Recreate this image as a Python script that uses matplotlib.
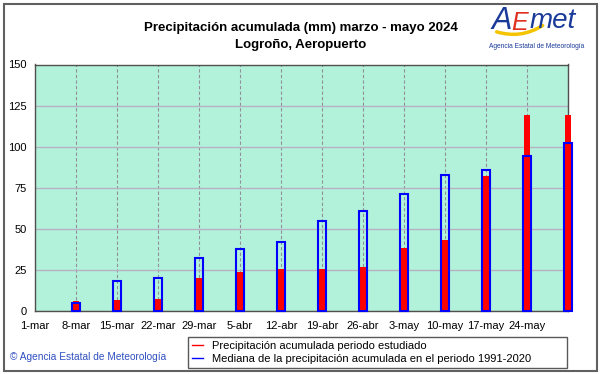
import matplotlib
matplotlib.use('Agg')
import matplotlib.pyplot as plt
from matplotlib.patches import Rectangle, FancyArrowPatch
import numpy as np

plt.rcParams['font.family'] = ['Liberation Sans', 'DejaVu Sans']

# ── Data ─────────────────────────────────────────────────────────
week_labels = ['1-mar', '8-mar', '15-mar', '22-mar', '29-mar', '5-abr', '12-abr',
               '19-abr', '26-abr', '3-may', '10-may', '17-may', '24-may', '']
# days since 1-mar for each bar (8-mar .. 31-may)
bar_days = [7, 14, 21, 28, 35, 42, 49, 56, 63, 70, 77, 84, 91]
prec_2024 = [6, 6.5, 7.5, 20, 23.5, 25.5, 25.5, 26.5, 38.5, 43, 82, 119, 119]
mediana = [5, 18, 20, 32, 38, 42, 55, 61, 71, 83, 86, 94.5, 102.5]

# ── Figure ───────────────────────────────────────────────────────
fig = plt.figure(figsize=(6.01, 3.74), dpi=100)
ax = fig.add_axes([35 / 601, 1 - 311 / 374, 533 / 601, 246.5 / 374])
ax.set_facecolor('#b2f2da')

red_bars = ax.bar(bar_days, prec_2024, width=1.05, color='#ff0000', zorder=3)
blue_bars = ax.bar(bar_days, mediana, width=1.2, facecolor='none', edgecolor='#0000ff',
                   linewidth=1.5, zorder=4)
for b in list(red_bars) + list(blue_bars):
    b.set_clip_on(False)

ax.set_xlim(0, 91)
ax.set_ylim(0, 150)
ax.set_xticks(np.arange(0, 92, 7))
ax.set_xticklabels(week_labels)
ax.set_yticks(np.arange(0, 151, 25))
ax.tick_params(axis='x', length=0, labelsize=8, pad=7)
ax.tick_params(axis='y', length=0, labelsize=8, pad=6)
ax.xaxis.grid(True, color='#909098', linestyle=(0, (3, 2)), linewidth=0.8, zorder=1)
ax.yaxis.grid(True, color='#b8b0c4', linestyle='-', linewidth=1.0, zorder=1)
ax.set_axisbelow(True)
for s in ax.spines.values():
    s.set_color('#505050')
    s.set_linewidth(1.0)

# ── Titles ───────────────────────────────────────────────────────
fig.text(0.5, 1 - 28 / 374, 'Precipitación acumulada (mm) marzo - mayo 2024',
         ha='center', va='center', fontsize=9.5, fontweight='bold')
fig.text(0.5, 1 - 45 / 374, 'Logroño, Aeropuerto',
         ha='center', va='center', fontsize=9.5, fontweight='bold')

# ── Logo (approximation) ─────────────────────────────────────────
fig.text(502 / 601, 1 - 21 / 374, 'A', color='#1a3a9a', fontsize=22,
         style='italic', ha='center', va='center')
fig.text(520 / 601, 1 - 23 / 374, 'E', color='#e03020', fontsize=18,
         style='italic', ha='center', va='center')
fig.text(553 / 601, 1 - 21 / 374, 'met', color='#1a3a9a', fontsize=20,
         style='italic', ha='center', va='center')
swoosh = FancyArrowPatch((494 / 601, 1 - 31 / 374), (545 / 601, 1 - 24 / 374),
                         transform=fig.transFigure, arrowstyle='-',
                         connectionstyle='arc3,rad=0.25', color='#f5c400', lw=2.5)
fig.add_artist(swoosh)
fig.text(537 / 601, 1 - 47 / 374, 'Agencia Estatal de Meteorología', color='#1a3a9a',
         fontsize=4.8, ha='center', va='center')

# ── Legend ───────────────────────────────────────────────────────
leg_handles = [plt.Line2D([], [], color='#ff0000', lw=1),
               plt.Line2D([], [], color='#0000ff', lw=1)]
leg = fig.legend(leg_handles,
                 ['Precipitación acumulada periodo estudiado',
                  'Mediana de la precipitación acumulada en el periodo 1991-2020'],
                 loc='lower left', mode='expand',
                 bbox_to_anchor=(188 / 601, 6 / 374, 379 / 601, 33 / 374),
                 fontsize=8, frameon=True, fancybox=False, handlelength=1.0,
                 handletextpad=0.8, borderpad=0.35, labelspacing=0.3,
                 borderaxespad=0)
leg.get_frame().set_edgecolor('#303030')
leg.get_frame().set_linewidth(1.0)

fig.text(10 / 601, 1 - 357 / 374, '© Agencia Estatal de Meteorología', color='#3050c0',
         fontsize=7.3, ha='left', va='center')

# ── Outer frame ──────────────────────────────────────────────────
fig.add_artist(Rectangle((4 / 601, 3 / 374), 593 / 601, 367 / 374,
                         transform=fig.transFigure, fill=False,
                         edgecolor='#606060', linewidth=1.5))

plt.savefig('out.png', dpi=100)
